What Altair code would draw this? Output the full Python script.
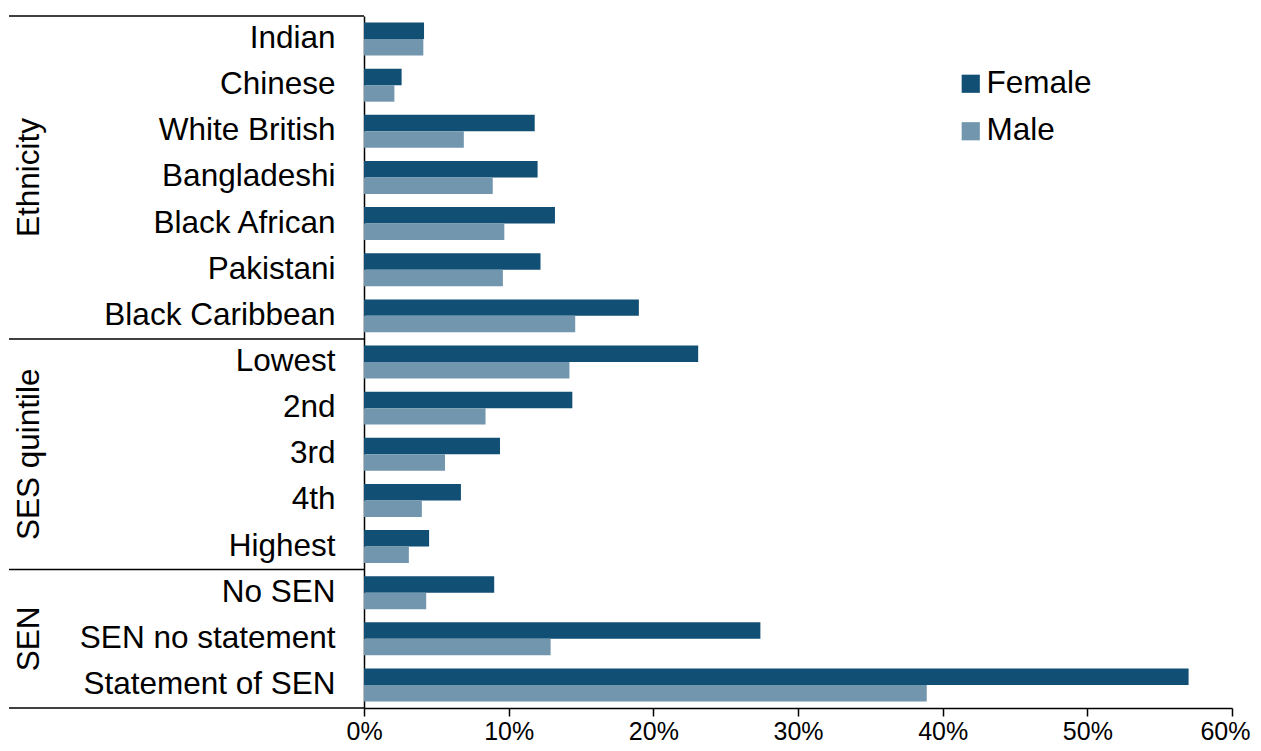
import altair as alt
import pandas as pd

categories = ["Indian", "Chinese", "White British", "Bangladeshi", "Black African",
              "Pakistani", "Black Caribbean", "Lowest", "2nd", "3rd", "4th", "Highest",
              "No SEN", "SEN no statement", "Statement of SEN"]
female = [4.15, 2.6, 11.8, 12.0, 13.2, 12.2, 19.0, 23.1, 14.4, 9.4, 6.7, 4.5, 9.0, 27.4, 57.0]
male = [4.1, 2.1, 6.9, 8.9, 9.7, 9.6, 14.6, 14.2, 8.4, 5.6, 4.0, 3.1, 4.3, 12.9, 38.9]
series = ["Female", "Male"]
colors = ["#124f74", "#7196ae"]

groups = ["Ethnicity", "SES quintile", "SEN"]
group_mid = ["Bangladeshi", "3rd", "SEN no statement"]
group_start = ["Indian", "Lowest", "No SEN"]
last_category = ["Statement of SEN"]
x_ticks = [0, 0.1, 0.2, 0.3, 0.4, 0.5, 0.6]

FONT = "Liberation Sans"
FS = 31.5

rows = []
for c, f, m in zip(categories, female, male):
    rows.append({"category": c, "sex": "Female", "value": f / 100})
    rows.append({"category": c, "sex": "Male", "value": m / 100})
df = pd.DataFrame(rows)

yscale = alt.Scale(domain=categories, paddingInner=0, paddingOuter=0)

bars = alt.Chart(df).mark_bar().encode(
    y=alt.Y("category:N", scale=yscale, title=None,
            axis=alt.Axis(ticks=False, tickSize=0, labelPadding=29, labelFontSize=FS,
                          labelFont=FONT, labelColor="#000000", domainColor="#000000",
                          domainWidth=1.5, labelLimit=400)),
    yOffset=alt.YOffset("sex:N", scale=alt.Scale(domain=series, paddingOuter=0.4, paddingInner=0)),
    x=alt.X("value:Q", scale=alt.Scale(domain=[0, 0.6], nice=False), title=None,
            axis=alt.Axis(values=x_ticks, format=".0%", grid=False, tickSize=8,
                          tickColor="#000000", tickWidth=1.5, domainColor="#000000",
                          domainWidth=1.5, labelFontSize=25, labelFont=FONT,
                          labelColor="#000000", labelPadding=3, labelFlush=True,
                          labelFlushOffset=18)),
    color=alt.Color("sex:N", scale=alt.Scale(domain=series, range=colors),
                    legend=alt.Legend(title=None, orient="none", legendX=591, legendY=52,
                                      symbolType="square", symbolSize=330, symbolStrokeWidth=0,
                                      labelFontSize=FS, labelFont=FONT, labelColor="#000000",
                                      rowPadding=14.5, labelOffset=0)),
)

sep_df = pd.DataFrame({"category": group_start})
sep_top = alt.Chart(sep_df).mark_rule(color="#000000", strokeWidth=1.5).encode(
    y=alt.Y("category:N", scale=yscale, bandPosition=0),
    x=alt.value(-355), x2=alt.value(0),
)
end_df = pd.DataFrame({"category": last_category})
sep_end = alt.Chart(end_df).mark_rule(color="#000000", strokeWidth=1.5).encode(
    y=alt.Y("category:N", scale=yscale, bandPosition=1),
    x=alt.value(-355), x2=alt.value(0),
)

grp_df = pd.DataFrame({"category": group_mid, "group": groups})
grp_text = alt.Chart(grp_df).mark_text(angle=270, align="center", baseline="middle",
                                       fontSize=FS, font=FONT, color="#000000").encode(
    y=alt.Y("category:N", scale=yscale),
    x=alt.value(-334),
    text="group:N",
)

chart = alt.layer(bars, sep_top, sep_end, grp_text).properties(
    width=868, height=692,
    autosize=alt.AutoSizeParams(type="none"),
    padding={"left": 356, "top": 8, "right": 21, "bottom": 35},
).configure_view(stroke=None)

chart.save("out.html", embed_options={"renderer": "svg", "actions": False})
